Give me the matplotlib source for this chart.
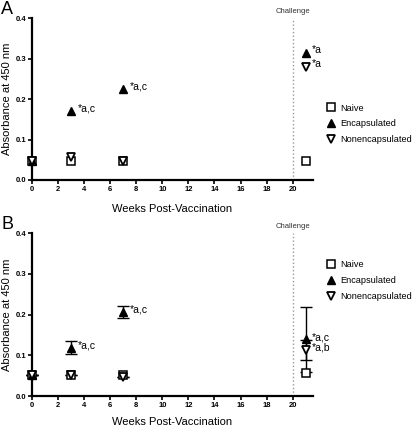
import matplotlib
matplotlib.use("Agg")
import matplotlib.pyplot as plt
import numpy as np

plt.rcParams['font.family'] = ['Liberation Sans', 'DejaVu Sans']

weeks = [0, 3, 7, 21]

# Panel A
a_naive = [0.046, 0.046, 0.046, 0.046]
a_enc = [0.046, 0.170, 0.225, 0.315]
a_nonenc = [0.046, 0.056, 0.048, 0.280]
a_notes = [(3, 0.170, "*a,c"), (7, 0.225, "*a,c"), (21, 0.315, "*a"), (21, 0.280, "*a")]

# Panel B
b_naive = [0.051, 0.051, 0.051, 0.056]
b_enc = [0.051, 0.119, 0.207, 0.139]
b_enc_err = [0.0, 0.016, 0.015, 0.080]
b_nonenc = [0.051, 0.051, 0.048, 0.113]
b_nonenc_err = [0.0, 0.0, 0.0, 0.025]
b_notes = [(3, 0.119, "*a,c"), (7, 0.207, "*a,c"), (21, 0.139, "*a,c"), (21, 0.113, "*a,b")]

challenge_week = 20
yticks = [0.0, 0.1, 0.2, 0.3, 0.4]
xticks = list(range(0, 21, 2))

fig = plt.figure(figsize=(4.16, 4.26), dpi=100)
axA = fig.add_axes([0.077, 0.5775, 0.675, 0.380])
axB = fig.add_axes([0.077, 0.070, 0.675, 0.383])

def draw(ax, naive, enc, nonenc, notes, enc_err=None, non_err=None, leg_y=0.48, xpad=8):
    ms = 6
    if enc_err is not None:
        ax.errorbar(weeks, enc, yerr=enc_err, fmt='none', ecolor='black', elinewidth=1,
                    capsize=4, capthick=1, clip_on=False, zorder=2)
        ax.errorbar(weeks, nonenc, yerr=non_err, fmt='none', ecolor='black', elinewidth=1,
                    capsize=4, capthick=1, clip_on=False, zorder=2)
    ax.plot(weeks, naive, linestyle='none', marker='s', ms=ms, mfc='white', mec='black',
            mew=1.1, clip_on=False, zorder=3, label='Naive')
    ax.plot(weeks, enc, linestyle='none', marker='^', ms=ms, mfc='black', mec='black',
            clip_on=False, zorder=4, label='Encapsulated')
    ax.plot(weeks, nonenc, linestyle='none', marker='v', ms=ms, mfc='white', mec='black',
            mew=1.3, clip_on=False, zorder=5, label='Nonencapsulated')
    for x, y, t in notes:
        ax.text(x + 0.5, y + 0.006, t, fontsize=7.5, ha='left', va='center')
    ax.axvline(challenge_week, color='#999999', linestyle=':', linewidth=1, ymax=1.0)
    ax.text(challenge_week, 0.408, "Challenge", fontsize=5.5, ha='center', va='bottom', color='#333333')
    ax.set_xlim(0, 21.55)
    ax.set_ylim(0, 0.4)
    ax.set_xticks(xticks)
    ax.set_yticks(yticks)
    ax.set_yticklabels([f"{v:.1f}" for v in yticks])
    ax.spines['top'].set_visible(False)
    ax.spines['right'].set_visible(False)
    for s in ('left', 'bottom'):
        ax.spines[s].set_linewidth(1.6)
    ax.tick_params(direction='out', length=3, width=1.2, labelsize=5.5, pad=1)
    for lab in ax.get_xticklabels() + ax.get_yticklabels():
        lab.set_fontweight('bold')
    ax.set_xlabel("Weeks Post-Vaccination", fontsize=8, labelpad=xpad)
    ax.set_ylabel("Absorbance at 450 nm", fontsize=8, labelpad=3)
    ax.legend(loc='upper left', bbox_to_anchor=(1.035, leg_y), frameon=False, fontsize=6.6,
              handletextpad=0.55, labelspacing=0.75, borderaxespad=0, handlelength=1.0)

draw(axA, a_naive, a_enc, a_nonenc, a_notes, leg_y=0.495, xpad=8)
draw(axB, b_naive, b_enc, b_nonenc, b_notes, b_enc_err, b_nonenc_err, leg_y=0.855, xpad=6)

fig.text(0.003, 0.998, "A", fontsize=13, ha='left', va='top')
fig.text(0.003, 0.493, "B", fontsize=13, ha='left', va='top')

fig.savefig("out.png", dpi=100)
